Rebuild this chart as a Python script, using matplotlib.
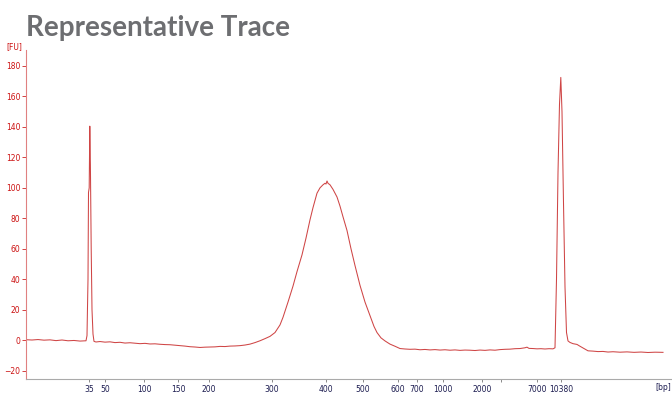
import matplotlib.pyplot as plt

# trace (x = migration position, y = fluorescence [FU])
pos = [26, 32, 38, 44, 50, 56, 62, 68, 74, 80, 84, 86, 87, 88, 88.5, 89.2, 89.8, 90.4, 91.2, 92, 93, 94,
       96, 100, 105, 110, 115, 120, 125, 130, 135, 140, 145, 150, 155, 160, 165, 170, 175, 180, 185, 190,
       195, 200, 205, 210, 215, 220, 225, 230, 235, 240, 245, 250, 255, 260, 265, 270, 275, 280, 283, 288,
       293, 297, 302, 306, 310, 313, 317, 320, 323, 325, 326, 327, 328, 330, 333, 337, 340, 343, 347, 351,
       355, 360, 365, 370, 374, 377, 381, 385, 390, 395, 400, 405, 410, 415, 420, 425, 430, 435, 440, 445,
       450, 455, 460, 465, 470, 475, 480, 485, 490, 495, 500, 505, 510, 515, 520, 525, 527, 529, 533, 537,
       541, 545, 549, 553, 555, 556.5, 558, 559.5, 560.8, 562, 563.5, 565, 566.5, 568, 570, 573, 577, 580,
       584, 588, 593, 598, 603, 608, 613, 620, 627, 634, 641, 648, 655, 663]
fu = [0.3, 0.1, 0.4, 0.0, 0.2, -0.3, 0.1, -0.4, -0.2, -0.6, -0.5, -0.4, 3, 40, 97, 100, 140.5, 115, 60, 20, 4, -0.8,
      -1.2, -0.9, -1.3, -1.1, -1.6, -1.4, -1.9, -1.7, -2.0, -2.3, -2.1, -2.5, -2.4, -2.7, -2.9, -3.0, -3.3, -3.6, -3.9, -4.3,
      -4.5, -4.8, -4.6, -4.5, -4.4, -4.1, -4.2, -3.9, -3.8, -3.6, -3.2, -2.6, -1.6, -0.4, 1.0, 2.5, 5.0, 10, 15, 25,
      35.5, 45, 56, 67, 79, 87, 96.5, 100, 102, 103, 102.5, 104.5, 103, 102, 99, 94, 88, 81, 72, 60,
      49, 36, 25, 16, 9, 5, 1.5, -0.5, -2.6, -4, -5.5, -5.8, -6, -5.9, -6.3, -6.1, -6.4, -6.2, -6.5, -6.3,
      -6.6, -6.4, -6.7, -6.5, -6.6, -6.8, -6.5, -6.7, -6.4, -6.6, -6.2, -6.0, -5.9, -5.6, -5.5, -5.0, -4.6, -5.4, -5.5, -5.7,
      -5.6, -5.8, -5.6, -5.7, -5, 40, 110, 155, 172.5, 150, 90, 35, 5, -0.5, -1.5, -2.3, -2.8, -4,
      -5.5, -7, -7.2, -7.5, -7.4, -7.8, -7.6, -7.9, -7.7, -8.0, -7.8, -8.1, -7.9, -8.0]

bp_pos = [89, 105, 144, 178, 209, 272, 326, 363, 398, 417, 443, 482, 501, 537, 561]
bp_labels = ['35', '50', '100', '150', '200', '300', '400', '500', '600', '700', '1000', '2000', '', '7000', '10380']
fu_ticks = [-20, 0, 20, 40, 60, 80, 100, 120, 140, 160, 180]

fig = plt.figure(figsize=(6.72, 3.94), dpi=100)
ax = fig.add_axes([26/672, 1 - 379/394, 1 - 26/672, 329/394])

ax.plot(pos, fu, color='#cf4545', lw=0.75)

ax.set_xlim(26, 672)
ax.set_ylim(-25.5, 190.5)

ax.set_xticks(bp_pos)
ax.set_xticklabels(bp_labels)
ax.set_yticks(fu_ticks)
ax.tick_params(axis='x', length=2.5, width=0.6, color='#777777', labelsize=5.5, labelcolor='#1c1c50', pad=1.5)
ax.tick_params(axis='y', length=3, width=0.6, color='#cc2222', labelsize=5.5, labelcolor='#cc1111', pad=1)

for s in ['top', 'right']:
    ax.spines[s].set_visible(False)
ax.spines['left'].set_color('#e08080')
ax.spines['left'].set_linewidth(0.8)
ax.spines['bottom'].set_color('#aaaaaa')
ax.spines['bottom'].set_linewidth(0.8)

fig.text(14/672, 1 - 47/394, '[FU]', color='#cc1111', fontsize=5.5, ha='center', va='center')
fig.text(663/672, 1 - 387/394, '[bp]', color='#1c1c50', fontsize=5.5, ha='center', va='center')
fig.text(26/672, 1 - 28/394, 'Representative Trace', color='#6d6e71', fontsize=20,
         fontweight='bold', family='Lato', ha='left', va='center')

fig.savefig('out.png', dpi=100)
